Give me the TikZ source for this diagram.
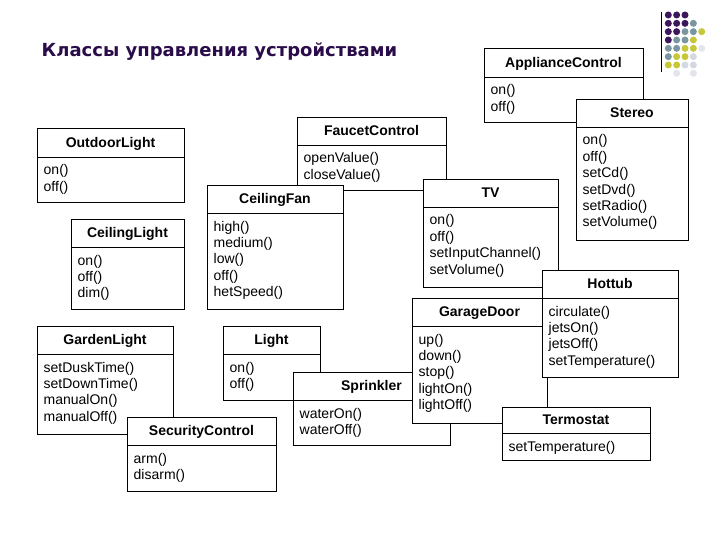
\documentclass[tikz,border=0pt]{standalone}
\usepackage{fontspec}
\setmainfont{Liberation Sans}
\newfontfamily\titlefont{DejaVu Sans}
\definecolor{titlepurple}{RGB}{43,12,74}
\definecolor{dotP}{RGB}{62,22,92}
\definecolor{dotG}{RGB}{122,150,160}
\definecolor{dotY}{RGB}{198,200,58}
\definecolor{dotL}{RGB}{212,216,224}
\definecolor{dotF}{RGB}{226,229,236}
\tikzset{
  frame/.style={draw=black, fill=white, line width=0.9pt, inner sep=0pt, outer sep=0pt, anchor=north west},
  headtext/.style={font=\fontsize{14}{16}\selectfont\bfseries, inner sep=0pt, anchor=base},
  bodytext/.style={font=\fontsize{14}{16.4}\selectfont, inner sep=0pt, anchor=base west},
  dotmark/.style={circle, inner sep=0pt, minimum size=7pt},
  titletext/.style={font=\titlefont\bfseries\fontsize{18}{20}\selectfont, text=titlepurple, inner sep=0pt, anchor=base west},
}
% name, x1, y1, x2, yheader, y2, title, items
\newcommand\umlbox[8]{%
  \node[frame, minimum width=#4pt-#2pt, minimum height=#5pt-#3pt] (#1-head) at (#2,-#3) {};
  \node[frame, minimum width=#4pt-#2pt, minimum height=#6pt-#5pt] (#1-body) at (#2,-#5) {};
  \node[headtext, yshift=-4.8pt] (#1-title) at (#1-head.center) {#7};
  \node[bodytext, xshift=6.5pt, yshift=-18pt] (#1-items) at (#1-body.north west) {\parbox[t]{200pt}{\raggedright #8}};
}
\begin{document}
\begin{tikzpicture}[x=1pt, y=1pt]
\fill[white] (0,0) rectangle (720,-540);
\useasboundingbox (0,0) rectangle (720,-540);

% title
\node[titletext] (title) at (41.5,-57) {Классы управления устройствами};

% decoration
\coordinate (decotop) at (661,-12);
\coordinate (decobot) at (661,-72);
\draw[line width=1pt, black] (decotop) -- (decobot);
\foreach \c/\r/\col in {
  1/1/dotP, 2/1/dotP, 3/1/dotP,
  1/2/dotP, 2/2/dotP, 3/2/dotP, 4/2/dotG,
  1/3/dotP, 2/3/dotP, 3/3/dotG, 4/3/dotG, 5/3/dotY,
  1/4/dotP, 2/4/dotG, 3/4/dotG, 4/4/dotY,
  1/5/dotG, 2/5/dotG, 3/5/dotY, 4/5/dotY, 5/5/dotF,
  1/6/dotG, 2/6/dotY, 3/6/dotY, 4/6/dotL,
  1/7/dotY, 2/7/dotY, 3/7/dotL, 4/7/dotL,
  2/8/dotF, 4/8/dotF}
  \node[dotmark, fill=\col] (dot-\c-\r) at ({668.3+8.35*(\c-1)},{-15-8.33*(\r-1)}) {};

\umlbox{ac}{484}{48}{643}{77}{122}{ApplianceControl}{on()\\off()}
\umlbox{stereo}{576}{99}{688}{127}{240}{Stereo}{on()\\off()\\setCd()\\setDvd()\\setRadio()\\setVolume()}
\umlbox{outdoor}{37}{128}{184}{157}{202}{OutdoorLight}{on()\\off()}
\umlbox{ceillight}{71}{219}{184}{247}{309}{CeilingLight}{on()\\off()\\dim()}
\umlbox{faucet}{297}{117}{446}{145}{190}{FaucetControl}{openValue()\\closeValue()}
\umlbox{fan}{207}{185}{343}{213}{309}{CeilingFan}{high()\\medium()\\low()\\off()\\hetSpeed()}
\umlbox{tv}{423}{179}{558}{207}{287}{TV}{on()\\off()\\setInputChannel()\\setVolume()}
\umlbox{light}{223}{326}{320}{354}{400}{Light}{on()\\off()}
\umlbox{sprinkler}{293}{372}{450}{400}{445}{Sprinkler}{waterOn()\\waterOff()}
\umlbox{garage}{412}{298}{547}{326}{423}{GarageDoor}{up()\\down()\\stop()\\lightOn()\\lightOff()}
\umlbox{hottub}{542}{270}{678}{298}{377}{Hottub}{circulate()\\jetsOn()\\jetsOff()\\setTemperature()}
\umlbox{termostat}{502}{407}{650}{433}{460}{Termostat}{setTemperature()}
\umlbox{garden}{37}{326}{173}{354}{434}{GardenLight}{setDuskTime()\\setDownTime()\\manualOn()\\manualOff()}
\umlbox{security}{127}{417}{276}{445}{491}{SecurityControl}{arm()\\disarm()}
\end{tikzpicture}
\end{document}
